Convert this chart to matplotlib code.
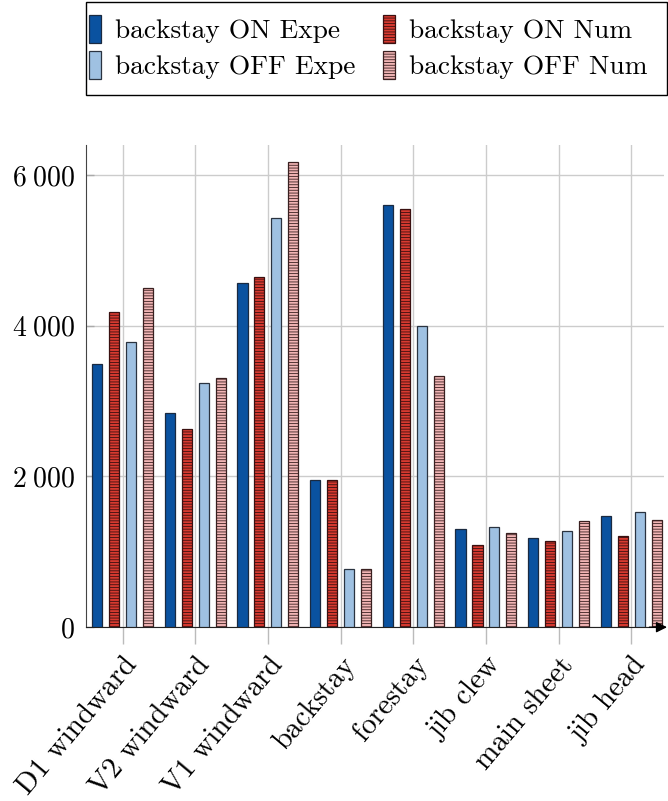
import numpy as np
import matplotlib
matplotlib.use("Agg")
import matplotlib.pyplot as plt
from matplotlib.patches import Rectangle

# Loads per sensor (N), backstay tensioned vs. slack, experiment vs. simulation
sensors = ["D1 windward", "V2 windward", "V1 windward", "backstay",
           "forestay", "jib clew", "main sheet", "jib head"]
on_expe = [3490, 2840, 4570, 1960, 5600, 1300, 1190, 1470]
on_num = [4180, 2630, 4650, 1960, 5550, 1090, 1140, 1205]
off_expe = [3780, 3245, 5430, 770, 4000, 1325, 1275, 1535]
off_num = [4500, 3310, 6170, 770, 3340, 1245, 1405, 1420]
yticks = [0, 2000, 4000, 6000]
ytick_labels = [r"$0$", r"$2\;000$", r"$4\;000$", r"$6\;000$"]

plt.rcParams["mathtext.fontset"] = "cm"
plt.rcParams["font.family"] = "serif"
plt.rcParams["font.serif"] = ["cmr10", "DejaVu Serif"]
plt.rcParams["axes.unicode_minus"] = False
plt.rcParams["hatch.linewidth"] = 0.6

W, H = 668, 801
fig = plt.figure(figsize=(W / 100, H / 100), dpi=100)
ax = fig.add_axes([0.129, 0.217, 0.865, 0.602])

x = np.arange(len(sensors))
offset = 0.233
width = 0.14
series = [
    (on_expe, "backstay ON Expe", "#0a52a0", None, "#1a2a40"),
    (on_num, "backstay ON Num", "#d83a30", "------", "#3a1010"),
    (off_expe, "backstay OFF Expe", "#9fc1e2", None, "#2a3340"),
    (off_num, "backstay OFF Num", "#f2b5b5", "------", "#3a2020"),
]
bars = []
for i, (vals, label, color, hatch, edge) in enumerate(series):
    b = ax.bar(x + (i - 1.5) * offset, vals, width, color=color, hatch=hatch,
               edgecolor=edge, linewidth=0.9, label=label, zorder=3)
    bars.append(b)

ax.set_xlim(-0.5, 7.45)
ax.set_ylim(0, 6400)
ax.set_xticks(x)
ax.set_xticklabels(sensors, rotation=50, ha="right", rotation_mode="anchor",
                   fontsize=21)
ax.set_yticks(yticks)
ax.set_yticklabels(ytick_labels, fontsize=20)
ax.tick_params(axis="x", length=12, color="#bbbbbb", width=1, pad=6)
ax.tick_params(axis="y", direction="in", length=6, color="#aaaaaa", width=1, pad=8)
ax.grid(True, color="#cccccc", linewidth=1, zorder=0)
ax.set_axisbelow(True)

for side in ["top", "right"]:
    ax.spines[side].set_visible(False)
ax.spines["left"].set_color("#444444")
ax.spines["bottom"].set_color("#222222")
# arrow head at the end of the x axis
ax.annotate("", xy=(1.01, 0), xytext=(0.97, 0), xycoords="axes fraction",
            arrowprops=dict(arrowstyle="-|>", color="black", lw=1,
                            mutation_scale=16), annotation_clip=False)

# row-wise legend: ON pair on top, OFF pair below, inside a wide box
order = [0, 2, 1, 3]
leg = fig.legend([bars[k] for k in order], [series[k][1] for k in order],
                 loc="upper left", bbox_to_anchor=(89 / W, 1 - 15 / H),
                 ncol=2, fontsize=19.7, frameon=False, handlelength=0.45,
                 handleheight=1.2, handletextpad=0.5, columnspacing=1.0,
                 borderpad=0.0, labelspacing=0.28, borderaxespad=0)
fig.add_artist(Rectangle((86 / W, 1 - 95 / H), 581 / W, 93 / H,
                         transform=fig.transFigure, fill=False,
                         edgecolor="black", linewidth=1.0))

fig.savefig("out.png", dpi=100)
